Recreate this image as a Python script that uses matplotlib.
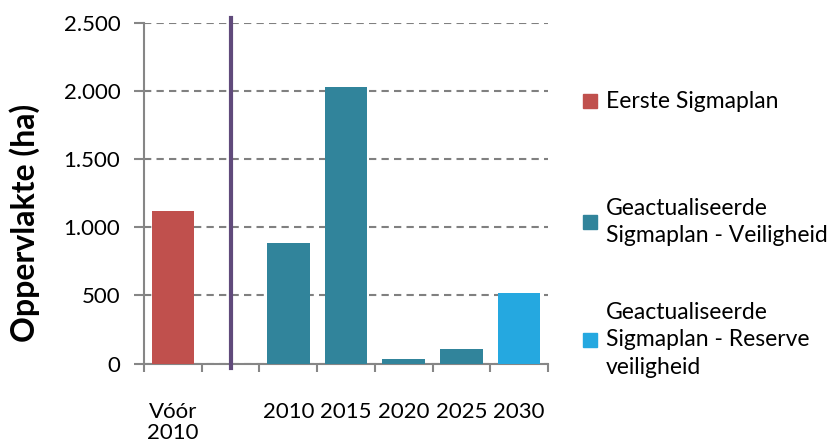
import matplotlib.pyplot as plt
from matplotlib.patches import Rectangle
from matplotlib.ticker import FuncFormatter

categories = ["Vóór\n2010", "", "2010", "2015", "2020", "2025", "2030"]
values = [1122, 0, 887, 2031, 34, 103, 518]
series = ["Eerste Sigmaplan", "", "Geactualiseerde Sigmaplan - Veiligheid",
          "Geactualiseerde Sigmaplan - Veiligheid", "Geactualiseerde Sigmaplan - Veiligheid",
          "Geactualiseerde Sigmaplan - Veiligheid", "Geactualiseerde Sigmaplan - Reserve veiligheid"]
legend_labels = ["Eerste Sigmaplan",
                 "Geactualiseerde\nSigmaplan - Veiligheid",
                 "Geactualiseerde\nSigmaplan - Reserve\nveiligheid"]
colors = ["#C0504D", "#31849B", "#25A8E0"]

plt.rcParams['font.family'] = ['Lato', 'DejaVu Sans']

fig = plt.figure(figsize=(8.32, 4.46), dpi=100)
ax = fig.add_axes([144/832, 1-363.5/446, (548-144)/832, (363.5-23.3)/446])

color_map = {"Eerste Sigmaplan": colors[0],
             "Geactualiseerde Sigmaplan - Veiligheid": colors[1],
             "Geactualiseerde Sigmaplan - Reserve veiligheid": colors[2],
             "": "white"}
x = list(range(len(categories)))
ax.bar(x, values, width=0.74, color=[color_map[s] for s in series], zorder=3)

ax.set_xlim(-0.5, len(categories) - 0.5)
ax.set_ylim(0, 2500)
ax.set_yticks([0, 500, 1000, 1500, 2000, 2500])
ax.yaxis.set_major_formatter(FuncFormatter(lambda v, p: f"{int(v):,}".replace(",", ".")))
ax.yaxis.grid(True, linestyle=(0, (3.5, 2.5)), color="#808080", linewidth=1.5, zorder=0)

# separator between old plan and updated plan
ax.plot([1, 1], [-30, 2540], color="#604A7B", linewidth=3, clip_on=False, zorder=4)

ax.set_xticks(x)
ax.set_xticklabels(categories, fontsize=16, linespacing=1.05)
ax.set_xticks([i - 0.5 for i in range(len(categories) + 1)], minor=True)
ax.tick_params(axis='x', which='major', length=0, pad=28)
ax.tick_params(axis='x', which='minor', length=6, color="#868686", width=1.5)
ax.tick_params(axis='y', length=7, color="#868686", width=1.5, labelsize=16, pad=10)

for s in ["top", "right"]:
    ax.spines[s].set_visible(False)
for s in ["left", "bottom"]:
    ax.spines[s].set_color("#868686")
    ax.spines[s].set_linewidth(1.5)

ax.set_ylabel("Oppervlakte (ha)", fontsize=23, fontweight='bold')
ax.yaxis.set_label_coords(-0.257, 0.413)

# legend
legend_y = [101, 222, 340]
for label, c, yy in zip(legend_labels, colors, legend_y):
    fig.patches.append(Rectangle((583/832, 1-(yy+7)/446), 14/832, 14/446,
                                 transform=fig.transFigure, color=c))
    fig.text(606/832, 1-yy/446, label, fontsize=16.5, va='center', ha='left', linespacing=1.4)

plt.savefig("out.png", dpi=100)
